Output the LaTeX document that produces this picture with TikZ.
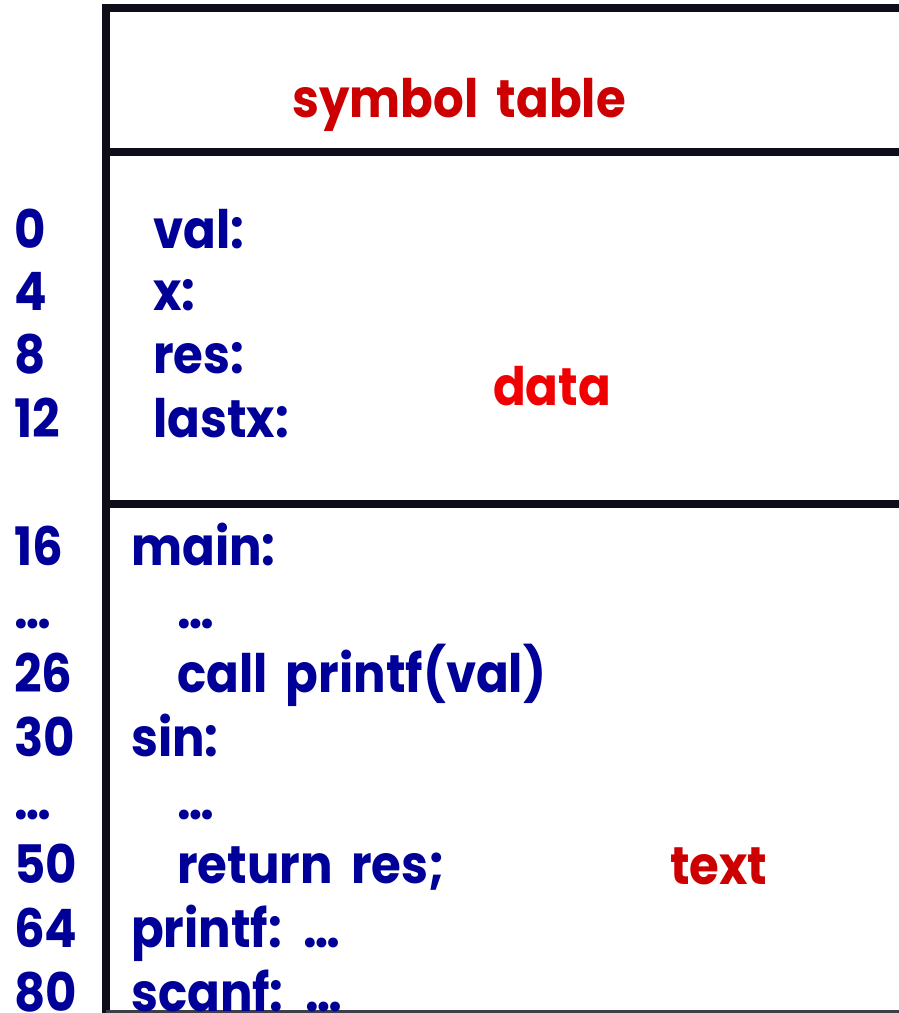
\documentclass[tikz,border=0pt]{standalone}
\usepackage{fontspec}
\setmainfont{Poppins}[FakeStretch=0.91, WordSpace=1.8]
\definecolor{rulecol}{HTML}{0F0E18}
\definecolor{codeblue}{HTML}{000099}
\definecolor{labelred}{HTML}{CC0000}
\definecolor{datared}{HTML}{F00000}
\begin{document}
\begin{tikzpicture}[x=1pt,y=-1pt,
  rule/.style={line width=8pt, draw=rulecol},
  txt/.style={anchor=base west, inner sep=0pt, font=\fontsize{53}{60}\selectfont\bfseries},
  addr/.style={txt, text=codeblue},
  code/.style={txt, text=codeblue},
  seglabel/.style={txt, text=labelred}]
  \useasboundingbox (0,0) rectangle (899,1013);
  \clip (0,0) rectangle (899,1013);

  % segment frame
  \coordinate (topL) at (102,8);
  \coordinate (topR) at (899,8);
  \coordinate (symL) at (106,152);
  \coordinate (symR) at (899,152);
  \coordinate (datL) at (106,504);
  \coordinate (datR) at (899,504);
  \coordinate (spineT) at (106,4);
  \coordinate (spineB) at (106,1013);
  \coordinate (botL) at (106,1011.5);
  \coordinate (botR) at (899,1011.5);
  \draw[rule] (topL) -- (topR);
  \draw[rule] (symL) -- (symR);
  \draw[rule] (datL) -- (datR);
  \draw[rule] (spineT) -- (spineB);
  \draw[line width=2.5pt, draw=rulecol!80] (botL) -- (botR);

  % segment names
  \node[seglabel] (symtab) at (292,117) {symbol table};
  \node[seglabel, text=datared] (data) at (493,405) {data};
  \node[seglabel] (text) at (670,884) {text};

  % data segment
  \node[addr] (a0)  at (14,248) {0};
  \node[addr] (a4)  at (14,310) {4};
  \node[addr] (a8)  at (14,373) {8};
  \node[addr] (a12) at (14,437) {12};
  \node[code] (val)   at (153,248) {val:};
  \node[code] (x)     at (153,310) {x:};
  \node[code] (res)   at (153,373) {res:};
  \node[code] (lastx) at (153,437) {lastx:};

  % text segment
  \node[addr] (a16) at (14,565) {16};
  \node[addr] (d1)  at (14,628) {…};
  \node[addr] (a26) at (14,692) {26};
  \node[addr] (a30) at (14,756) {30};
  \node[addr] (d2)  at (14,819) {…};
  \node[addr] (a50) at (14,883) {50};
  \node[addr] (a64) at (14,947) {64};
  \node[addr] (a80) at (14,1011) {80};
  \node[code] (main)   at (131,565) {main:};
  \node[code] (m1)     at (177,628) {…};
  \node[code] (call)   at (177,692) {call printf(val)};
  \node[code] (sin)    at (131,756) {sin:};
  \node[code] (s1)     at (177,819) {…};
  \node[code] (ret)    at (177,883) {return res;};
  \node[code] (printf) at (131,947) {printf: …};
  \node[code] (scanf)  at (131,1011) {scanf: …};
\end{tikzpicture}
\end{document}
